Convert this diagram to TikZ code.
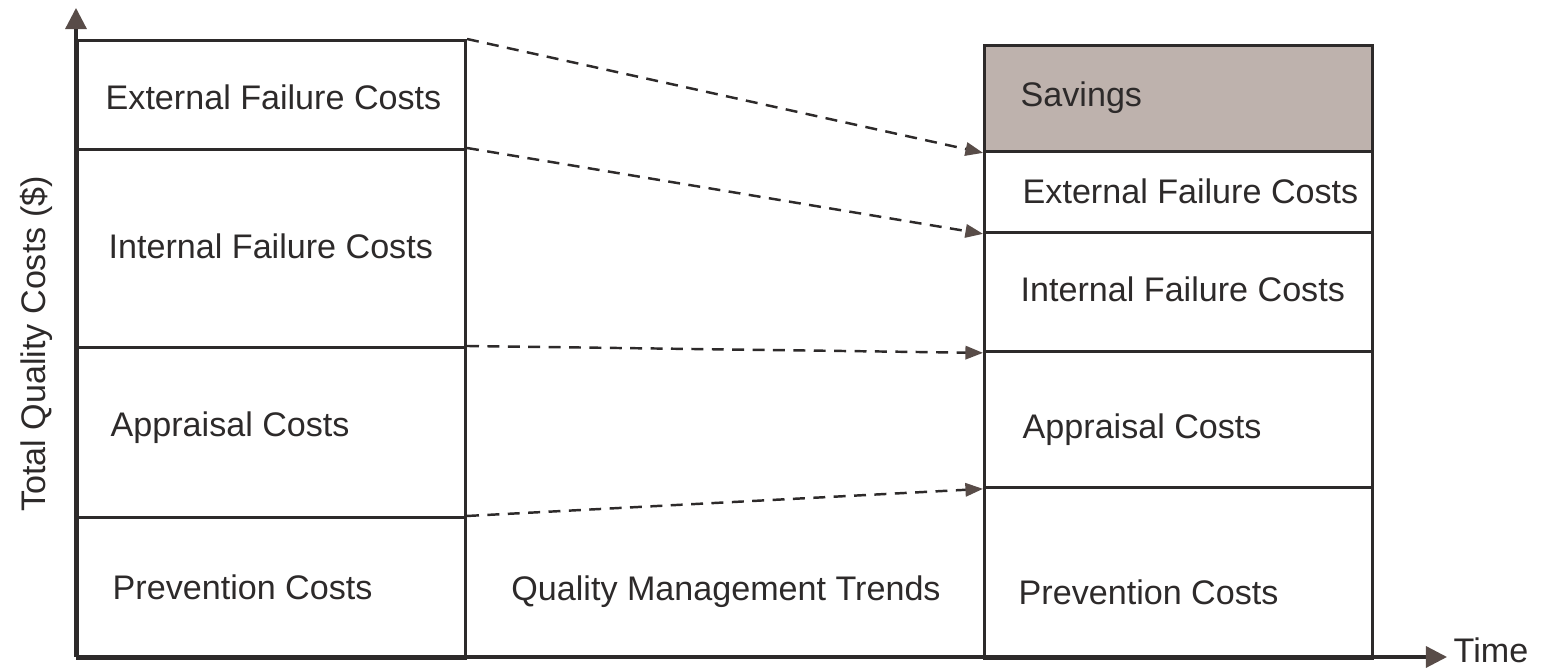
\documentclass[tikz,border=0pt]{standalone}
\usepackage{fontspec}
\setmainfont{Liberation Sans}
\usetikzlibrary{arrows.meta}
\definecolor{inkgray}{RGB}{45,42,42}
\definecolor{tipbrown}{RGB}{88,76,72}
\definecolor{savefill}{RGB}{190,178,173}
\tikzstyle{box}=[draw=inkgray,line width=0.8pt,rectangle,anchor=north west,inner sep=0pt]
\tikzstyle{costtext}=[anchor=west,font=\fontsize{9.7}{11}\selectfont,text=inkgray,inner sep=0pt]
\tikzstyle{trend}=[draw=inkgray,line width=0.7pt,dash pattern=on 3.4pt off 2.4pt,-{Triangle[length=5pt,width=3.8pt,color=tipbrown]}]
\tikzstyle{axis}=[draw=inkgray,line width=0.9pt,-{Triangle[length=6pt,width=6pt,color=tipbrown]}]

\begin{document}
\begin{tikzpicture}[x=0.01cm,y=-0.01cm]
				\useasboundingbox (0,0) rectangle (1560,668);
				% First we draw the cost blocks, before and after
				\foreach \name/\pos/\h in {lext/{(76,39)}/1.09cm, lint/{(76,148)}/1.98cm,
										lapp/{(76,346)}/1.70cm, lpre/{(76,516)}/1.41cm,
										rext/{(983,150)}/0.81cm, rint/{(983,231)}/1.19cm,
										rapp/{(983,350)}/1.36cm, rpre/{(983,486)}/1.71cm}
				\node[box,minimum width=3.88cm,minimum height=\h] (\name) at \pos {};
				\node[box,fill=savefill,minimum width=3.88cm,minimum height=1.06cm] (rsav) at (983,44) {};
	
				% Texts of the blocks
				\foreach \name/\pos/\txt in {tlext/{(105,97)}/External Failure Costs, tlint/{(108,246)}/Internal Failure Costs,
										tlapp/{(110,428)}/Appraisal Costs, tlpre/{(112,587)}/Prevention Costs,
										trsav/{(1020,98)}/Savings, trext/{(1022,191)}/External Failure Costs,
										trint/{(1020,289)}/Internal Failure Costs, trapp/{(1022,430)}/Appraisal Costs,
										trpre/{(1018,592)}/Prevention Costs}
				\node[costtext] (\name) at \pos {\txt};
				\node[costtext,anchor=center] (trend) at (726,592) {Quality Management Trends};
	
				% Connect the blocks with dashed arrows
				\foreach \source/ \dest in {lext/rsav, lint/rext, lapp/rint, lpre/rapp}
				\path[trend] (\source.north east) -- (\dest.south west);
	
				% Axes
				\coordinate (origin) at (76,657);
				\coordinate (ytop) at (76,8);
				\coordinate (xend) at (1447,657);
				\path[axis] (origin) -- (ytop);
				\path[axis] (origin) -- (xend);
				\node[costtext,anchor=center,rotate=90] (ylabel) at (36,344) {Total Quality Costs (\$)};
				\node[costtext] (timelbl) at (1453,650) {Time};
			\end{tikzpicture}
\end{document}
